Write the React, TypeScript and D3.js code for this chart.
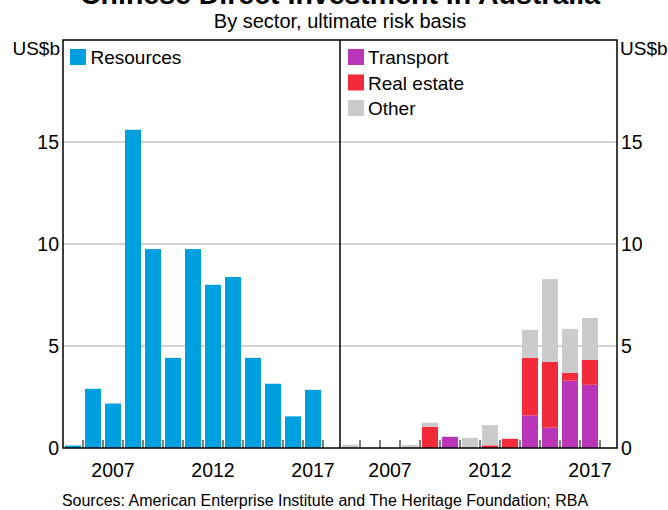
import React from "react";
import * as d3 from "d3";

const years = [2005, 2006, 2007, 2008, 2009, 2010, 2011, 2012, 2013, 2014, 2015, 2016, 2017];
const resources = [0.12, 2.9, 2.18, 15.6, 9.75, 4.42, 9.75, 8.0, 8.38, 4.42, 3.15, 1.55, 2.85];
const transport = [0, 0, 0, 0, 0, 0.55, 0, 0, 0, 1.6, 1.0, 3.3, 3.1];
const realEstate = [0, 0, 0, 0, 1.04, 0, 0, 0.13, 0.45, 2.82, 3.22, 0.38, 1.22];
const other = [0.16, 0, 0, 0.15, 0.2, 0, 0.5, 1.0, 0, 1.37, 4.06, 2.16, 2.05];
const yTicks = [0, 5, 10, 15];
const xLabels = [2007, 2012, 2017];
const seriesNames = ["Transport", "Real estate", "Other"];

const W = 668, H = 510;
const left = 63, mid = 340, right = 617, top = 40, bottom = 448;
const FONT = "Liberation Sans, Arial, sans-serif";
const colors = { resources: "#009FE0", transport: "#B936B9", realEstate: "#F32A3A", other: "#CBCBCB" };

export default function App() {
  const y = d3.scaleLinear().domain([0, 20]).range([bottom, top]);
  const bandW = 20;
  const span = (mid - left) / bandW;
  const xL = d3.scaleLinear().domain([2005, 2005 + span]).range([left, mid]);
  const xR = d3.scaleLinear().domain([2005, 2005 + span]).range([mid, right]);
  const barPad = 2;
  const barW = bandW - 2 * barPad;

  const table = years.map((yr, i) => ({ year: yr, Transport: transport[i], "Real estate": realEstate[i], Other: other[i] }));
  const stack = d3.stack<any>().keys(seriesNames)(table);
  const stackColors = [colors.transport, colors.realEstate, colors.other];

  const tickYears = d3.range(2006, 2019);

  return (
    <svg width={W} height={H} style={{ position: "absolute", left: 0, top: 0, background: "#fff" }} fontFamily={FONT}>
      <rect x={0} y={0} width={W} height={H} fill="#fff" />
      <text x={340} y={4} textAnchor="middle" fontSize={28.5} fontWeight="bold">Chinese Direct Investment in Australia</text>
      <text x={340} y={28} textAnchor="middle" fontSize={20}>By sector, ultimate risk basis</text>

      {/* gridlines */}
      {yTicks.filter(t => t > 0).map(t => (
        <line key={t} x1={left} x2={right} y1={y(t)} y2={y(t)} stroke="#C6C6C6" strokeWidth={1.5} />
      ))}

      {/* left bars */}
      {years.map((yr, i) => (
        <rect key={yr} x={xL(yr) + barPad} width={barW} y={y(resources[i])} height={y(0) - y(resources[i])} fill={colors.resources} />
      ))}

      {/* right stacked bars */}
      {stack.map((s, si) => s.map((d, i) => (
        d[1] - d[0] > 0 ? (
          <rect key={si + "-" + i} x={xR(years[i]) + barPad} width={barW} y={y(d[1])} height={y(d[0]) - y(d[1])} fill={stackColors[si]} />
        ) : null
      )))}

      {/* x ticks */}
      {tickYears.map(t => (
        <g key={t}>
          <line x1={xL(t)} x2={xL(t)} y1={bottom} y2={bottom - 8} stroke="#555" strokeWidth={1.5} />
          <line x1={xR(t)} x2={xR(t)} y1={bottom} y2={bottom - 8} stroke="#555" strokeWidth={1.5} />
        </g>
      ))}

      {/* frame */}
      <rect x={left} y={top} width={right - left} height={bottom - top} fill="none" stroke="#000" strokeWidth={1.5} />
      <line x1={mid} x2={mid} y1={top} y2={bottom} stroke="#000" strokeWidth={1.5} />

      {/* y tick labels */}
      {yTicks.map(t => (
        <g key={t}>
          <text x={59} y={y(t)} dy="0.36em" textAnchor="end" fontSize={19.5}>{t}</text>
          <text x={621} y={y(t)} dy="0.36em" textAnchor="start" fontSize={19.5}>{t}</text>
        </g>
      ))}
      <text x={60} y={55} textAnchor="end" fontSize={19}>US$b</text>
      <text x={620} y={55} textAnchor="start" fontSize={19}>US$b</text>

      {/* x labels */}
      {xLabels.map(t => (
        <g key={t}>
          <text x={xL(t) + bandW / 2} y={476.5} textAnchor="middle" fontSize={19.5}>{t}</text>
          <text x={xR(t) + bandW / 2} y={476.5} textAnchor="middle" fontSize={19.5}>{t}</text>
        </g>
      ))}

      {/* legends */}
      <rect x={70} y={49} width={16} height={16} fill={colors.resources} />
      <text x={90.5} y={64} fontSize={19}>Resources</text>
      {seriesNames.map((n, i) => (
        <g key={n}>
          <rect x={348} y={49 + i * 25.5} width={16} height={16} fill={stackColors[i]} />
          <text x={368} y={64 + i * 25.5} fontSize={19}>{n}</text>
        </g>
      ))}

      <text x={325} y={506} textAnchor="middle" fontSize={16}>Sources: American Enterprise Institute and The Heritage Foundation; RBA</text>
    </svg>
  );
}
